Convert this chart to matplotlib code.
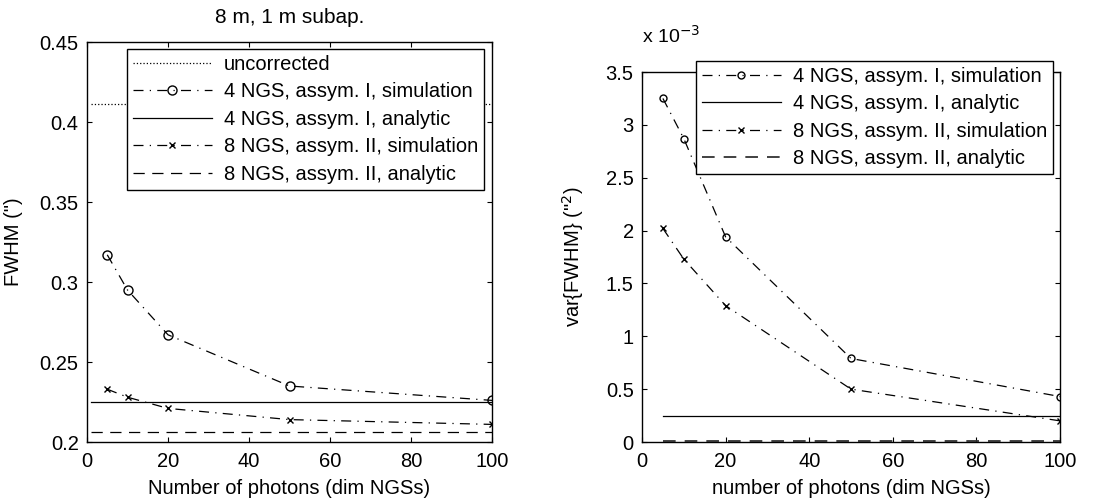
import matplotlib.pyplot as plt

plt.rcParams['font.family'] = ['Liberation Sans', 'DejaVu Sans']
plt.rcParams['font.size'] = 14.5
plt.rcParams['xtick.direction'] = 'in'
plt.rcParams['ytick.direction'] = 'in'
plt.rcParams['xtick.top'] = True
plt.rcParams['ytick.right'] = True
plt.rcParams['xtick.major.pad'] = 7
plt.rcParams['ytick.major.pad'] = 6

photons = [5, 10, 20, 50, 100]
analytic_x = [1, 100]
analytic_x2 = [5, 100]

# left panel: FWHM (arcsec)
uncorrected = 0.411
fwhm_4ngs_sim = [0.317, 0.295, 0.267, 0.235, 0.226]
fwhm_4ngs_an = 0.225
fwhm_8ngs_sim = [0.233, 0.228, 0.221, 0.214, 0.211]
fwhm_8ngs_an = 0.206

# right panel: var{FWHM}
var_4ngs_sim = [3.25e-3, 2.87e-3, 1.94e-3, 0.79e-3, 0.43e-3]
var_4ngs_an = 0.25e-3
var_8ngs_sim = [2.02e-3, 1.73e-3, 1.29e-3, 0.50e-3, 0.20e-3]
var_8ngs_an = 0.01e-3

labels = ['uncorrected',
          '4 NGS, assym. I, simulation',
          '4 NGS, assym. I, analytic',
          '8 NGS, assym. II, simulation',
          '8 NGS, assym. II, analytic']

dashdot = (8, 5, 1, 5)

fig = plt.figure(figsize=(11.1, 5.03), dpi=100)
ax1 = fig.add_axes([87 / 1110, 61 / 503, 405 / 1110, 400 / 503])
ax2 = fig.add_axes([642 / 1110, 61 / 503, 418 / 1110, 370 / 503])

lw = 0.9
ax1.plot(analytic_x, [uncorrected] * 2, ':', color='k', lw=lw, label=labels[0])
ax1.plot(photons, fwhm_4ngs_sim, color='k', lw=lw, dashes=dashdot, marker='o',
         ms=6.5, mfc='none', label=labels[1])
ax1.plot(analytic_x, [fwhm_4ngs_an] * 2, '-', color='k', lw=lw, label=labels[2])
ax1.plot(photons, fwhm_8ngs_sim, color='k', lw=lw, dashes=dashdot, marker='x',
         ms=4.5, label=labels[3])
ax1.plot(analytic_x, [fwhm_8ngs_an] * 2, color='k', lw=lw,
         dashes=(9, 6), label=labels[4])
ax1.set_xlim(0, 100)
ax1.set_ylim(0.2, 0.45)
ax1.set_xticks([0, 20, 40, 60, 80, 100])
ax1.set_yticks([0.2, 0.25, 0.3, 0.35, 0.4, 0.45])
ax1.set_yticklabels(['0.2', '0.25', '0.3', '0.35', '0.4', '0.45'])
ax1.set_xlabel('Number of photons (dim NGSs)', labelpad=6)
ax1.set_ylabel('FWHM (")', labelpad=12)
ax1.set_title('8 m, 1 m subap.', fontsize=15, pad=14)
leg1 = ax1.legend(loc='upper right', bbox_to_anchor=(0.98, 0.9825),
                  handlelength=3.9, fancybox=False, edgecolor='k',
                  framealpha=1, borderpad=0.3, labelspacing=0.42,
                  handletextpad=0.6, borderaxespad=0)
leg1.get_frame().set_linewidth(1.0)

ax2.plot(photons, var_4ngs_sim, color='k', lw=lw, dashes=dashdot, marker='o',
         ms=5, mfc='none', label=labels[1])
ax2.plot(analytic_x2, [var_4ngs_an] * 2, '-', color='k', lw=lw, label=labels[2])
ax2.plot(photons, var_8ngs_sim, color='k', lw=lw, dashes=dashdot, marker='x',
         ms=4, label=labels[3])
ax2.plot(analytic_x2, [var_8ngs_an] * 2, color='#333333', lw=1.3,
         dashes=(7, 5), label=labels[4])
ax2.set_xlim(0, 100)
ax2.set_ylim(0, 3.5e-3)
ax2.set_xticks([0, 20, 40, 60, 80, 100])
ax2.set_yticks([0, 0.5e-3, 1e-3, 1.5e-3, 2e-3, 2.5e-3, 3e-3, 3.5e-3])
ax2.set_yticklabels(['0', '0.5', '1', '1.5', '2', '2.5', '3', '3.5'])
ax2.set_xlabel('number of photons (dim NGSs)', labelpad=6)
ax2.set_ylabel('var{FWHM} ("$^2$)', labelpad=14)
ax2.text(0.0, 1.08, 'x 10$^{-3}$', transform=ax2.transAxes, fontsize=14)
leg2 = ax2.legend(loc='upper right', bbox_to_anchor=(0.983, 1.03),
                  handlelength=3.9, fancybox=False, edgecolor='k',
                  framealpha=1, borderpad=0.3, labelspacing=0.42,
                  handletextpad=0.6, borderaxespad=0)
leg2.get_frame().set_linewidth(1.0)

for ax in (ax1, ax2):
    for s in ax.spines.values():
        s.set_linewidth(1.0)

plt.savefig('out.png', dpi=100)
plt.close()
